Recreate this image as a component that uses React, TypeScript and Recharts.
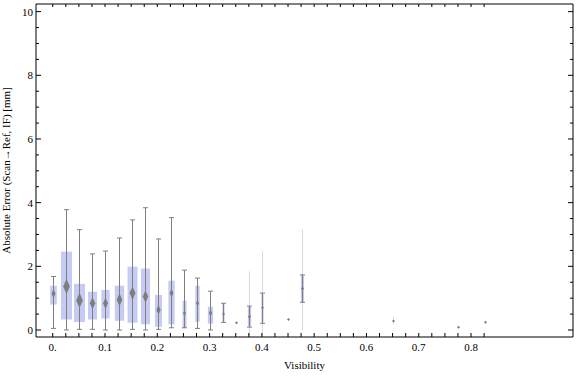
import React from "react";
import { Bar, ComposedChart, XAxis, YAxis } from "recharts";

// box-whisker summaries per visibility bin
const visibility = [0, 0.025, 0.05, 0.075, 0.1, 0.125, 0.15, 0.175, 0.2, 0.225, 0.25, 0.275, 0.3, 0.325, 0.35, 0.375, 0.4, 0.45, 0.475, 0.65, 0.775, 0.825];
const minErr = [0.05, 0, 0.02, 0.02, 0, 0, 0.02, 0, 0.02, 0.07, 0.07, 0.05, 0, 0.24, 0.23, 0.09, 0.21, 0.33, 0.87, 0.28, 0.09, 0.24];
const q1Err = [0.8, 0.33, 0.25, 0.33, 0.36, 0.29, 0.23, 0.18, 0.1, 0.18, 0.07, 0.26, 0.2, 0.27, 0.23, 0.12, 0.25, 0.33, 0.88, 0.28, 0.09, 0.24];
const medianErr = [1.14, 1.37, 0.93, 0.84, 0.84, 0.95, 1.16, 1.05, 0.63, 1.16, 0.53, 0.84, 0.53, 0.5, 0.23, 0.42, 0.7, 0.33, 1.3, 0.28, 0.09, 0.24];
const q3Err = [1.39, 2.46, 1.45, 1.2, 1.26, 1.39, 1.99, 1.93, 1.1, 1.55, 0.92, 1.39, 0.73, 0.8, 0.23, 0.72, 1.12, 0.33, 1.72, 0.28, 0.09, 0.24];
const maxErr = [1.68, 3.78, 3.15, 2.39, 2.48, 2.89, 3.46, 3.84, 2.86, 3.53, 1.88, 1.63, 1.22, 0.84, 0.23, 0.75, 1.16, 0.33, 1.73, 0.28, 0.09, 0.24];
// relative box width (sample weight)
const weight = [0.6, 1, 1, 0.82, 0.75, 0.85, 0.9, 0.82, 0.64, 0.57, 0.36, 0.4, 0.48, 0.2, 0.15, 0.3, 0.2, 0.15, 0.28, 0.1, 0.1, 0.1];
// faint smeared extents of the sparse bins
const faintLow = [null, null, null, null, null, null, null, null, null, null, null, null, null, null, null, -0.2, -0.2, null, 0, 0.18, null, null];
const faintHigh = [null, null, null, null, null, null, null, null, null, null, null, null, null, null, null, 1.84, 2.47, null, 3.16, 0.42, null, null];

const xTicks = Array.from({ length: 34 }, (_, i) => i * 0.025);
const xLabels = ["0.", "0.1", "0.2", "0.3", "0.4", "0.5", "0.6", "0.7", "0.8"];
const yTicks = Array.from({ length: 21 }, (_, i) => i * 0.5);

const data = visibility.map((v, i) => {
  const lo = faintLow[i] != null ? Math.min(faintLow[i] as number, minErr[i]) : minErr[i];
  const hi = faintHigh[i] != null ? Math.max(faintHigh[i] as number, maxErr[i]) : maxErr[i];
  return {
    v,
    span: [lo, hi],
    lo,
    hi,
    min: minErr[i],
    q1: q1Err[i],
    median: medianErr[i],
    q3: q3Err[i],
    max: maxErr[i],
    faint: faintLow[i] != null,
    weight: weight[i]
  };
});

const FONT = "'Liberation Serif', 'DejaVu Serif', serif";
const BOX_MAX = 11;
const X_DOMAIN = [-0.032, 0.995];
const Y_DOMAIN = [-0.22, 10.24];

// one bar spans the whole extent of a bin; the parts are placed along its (linear) pixel span
const BoxWhisker = (props: any) => {
  const { x, y, width, height, payload } = props;
  const p = payload;
  const cx = Math.round(x + width / 2) + 0.5;
  const toY = (val: number) => (p.hi > p.lo ? y + ((p.hi - val) / (p.hi - p.lo)) * height : y);
  const w = p.weight * BOX_MAX;
  const bw = Math.max(1.5, w);
  const hw = Math.max(1.5, w * 0.3);
  const hh = Math.max(1.5, w * 0.7);
  const my = toY(p.median);
  return (
    <g>
      {p.faint && (
        <line x1={cx} x2={cx} y1={toY(p.hi)} y2={toY(p.lo)} stroke="#cfcfcf" strokeWidth={1} opacity={0.8} />
      )}
      {p.q3 > p.q1 && (
        <rect x={cx - bw / 2} y={toY(p.q3)} width={bw} height={toY(p.q1) - toY(p.q3)} fill="#c6cbf3" />
      )}
      {p.max > p.min && (
        <g stroke="#7f7f7f" strokeWidth={1}>
          <line x1={cx} x2={cx} y1={toY(p.max)} y2={toY(p.min)} />
          <line x1={cx - 2.5} x2={cx + 2.5} y1={toY(p.max)} y2={toY(p.max)} />
          <line x1={cx - 2.5} x2={cx + 2.5} y1={toY(p.min)} y2={toY(p.min)} />
        </g>
      )}
      <path d={`M${cx},${my - hh} L${cx + hw},${my} L${cx},${my + hh} L${cx - hw},${my} Z`} fill="#7d7d7d" />
    </g>
  );
};

const near = (a: number, b: number) => Math.abs(a - b) < 1e-6;

const BottomTick = (props: any) => {
  const { x, y, payload } = props;
  const idx = Math.round(payload.value / 0.1);
  const labelled = near(payload.value, idx * 0.1) && idx < xLabels.length;
  return (
    <g>
      <line x1={x} x2={x} y1={y} y2={y - 4} stroke="#000" />
      {labelled && (
        <text x={x} y={y + 14} textAnchor="middle" fontSize={11} fontFamily={FONT} fill="#000">
          {xLabels[idx]}
        </text>
      )}
    </g>
  );
};

const TopTick = (props: any) => {
  const { x, y } = props;
  return <line x1={x} x2={x} y1={y} y2={y + 3} stroke="#000" />;
};

const LeftTick = (props: any) => {
  const { x, y, payload } = props;
  const major = near(payload.value % 2, 0);
  return (
    <g>
      <line x1={x} x2={x + (major ? 5 : 3)} y1={y} y2={y} stroke="#000" />
      {major && (
        <text x={x - 3} y={y + 4} textAnchor="end" fontSize={11} fontFamily={FONT} fill="#000">
          {payload.value}
        </text>
      )}
    </g>
  );
};

const RightTick = (props: any) => {
  const { x, y, payload } = props;
  const major = near(payload.value % 2, 0);
  return <line x1={x} x2={x - (major ? 5 : 3)} y1={y} y2={y} stroke="#000" />;
};

export default function App() {
  return (
    <div style={{ position: "absolute", left: 0, top: 0 }}>
      <ComposedChart width={576} height={377} data={data} margin={{ top: 3, right: 2, bottom: 0, left: 0 }}>
        <XAxis
          xAxisId="x"
          dataKey="v"
          type="number"
          domain={X_DOMAIN}
          allowDataOverflow
          ticks={xTicks}
          interval={0}
          tickSize={0}
          tickMargin={0}
          tickLine={false}
          tick={<BottomTick />}
          height={40}
          axisLine={{ stroke: "#000" }}
          label={{
            position: "insideBottom",
            content: (p: any) => (
              <text
                x={p.viewBox.x + p.viewBox.width / 2}
                y={p.viewBox.y + 32}
                textAnchor="middle"
                fontSize={11}
                fontFamily={FONT}
                fill="#000"
              >
                Visibility
              </text>
            )
          }}
        />
        <XAxis
          xAxisId="top"
          dataKey="v"
          type="number"
          orientation="top"
          domain={X_DOMAIN}
          allowDataOverflow
          ticks={xTicks}
          interval={0}
          tickSize={0}
          tickMargin={0}
          tickLine={false}
          tick={<TopTick />}
          height={1}
          axisLine={{ stroke: "#000" }}
        />
        <YAxis
          yAxisId="y"
          type="number"
          domain={Y_DOMAIN}
          allowDataOverflow
          ticks={yTicks}
          interval={0}
          tickSize={0}
          tickMargin={0}
          tickLine={false}
          tick={<LeftTick />}
          width={36}
          axisLine={{ stroke: "#000" }}
          label={{
            position: "insideLeft",
            content: (p: any) => {
              const lx = p.viewBox.x + 10;
              const ly = p.viewBox.y + p.viewBox.height / 2;
              return (
                <text
                  x={lx}
                  y={ly}
                  transform={`rotate(-90 ${lx} ${ly})`}
                  textAnchor="middle"
                  fontSize={11}
                  fontFamily={FONT}
                  fill="#000"
                >
                  Absolute Error (Scan→Ref, IF) [mm]
                </text>
              );
            }
          }}
        />
        <YAxis
          yAxisId="r"
          orientation="right"
          type="number"
          domain={Y_DOMAIN}
          allowDataOverflow
          ticks={yTicks}
          interval={0}
          tickSize={0}
          tickMargin={0}
          tickLine={false}
          tick={<RightTick />}
          width={1}
          axisLine={{ stroke: "#000" }}
        />
        <Bar xAxisId="x" yAxisId="y" dataKey="span" barSize={10} shape={<BoxWhisker />} isAnimationActive={false} />
      </ComposedChart>
    </div>
  );
}
